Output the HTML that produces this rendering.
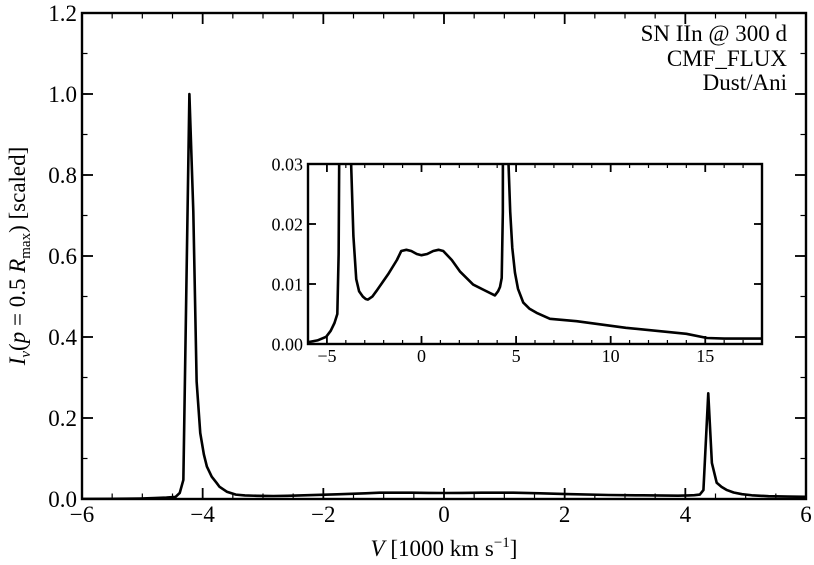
<!DOCTYPE html>
<html><head><meta charset="utf-8"><style>
html,body{margin:0;padding:0;background:#fff;}
svg{display:block;font-family:"Liberation Serif",serif;}
</style></head><body>
<svg id="chart" width="814" height="565" viewBox="0 0 814 565" xmlns="http://www.w3.org/2000/svg"></svg>
<script>
const velocities = [-6,-5.5,-5.04,-4.8,-4.6,-4.45,-4.38,-4.32,-4.22,-4.155,-4.10,-4.04,-3.98,-3.93,-3.85,-3.77,-3.72,-3.6,-3.45,-3.3,-3.1,-2.95,-2.83,-2.6,-2.39,-1.77,-1.3,-1.07,-0.8,-0.54,-0.25,0,0.3,0.62,0.9,1.15,1.6,2.03,2.73,3.3,3.88,4.05,4.15,4.24,4.30,4.38,4.44,4.52,4.6,4.69,4.8,4.94,5.1,5.38,5.7,6.08,6.79,8.2,10.8,14,15.1,16,17.9,18];
const intensities = [0.0003,0.0006,0.0012,0.0022,0.0035,0.005,0.015,0.047,1.0,0.71,0.29,0.163,0.11,0.08,0.055,0.04,0.03,0.018,0.0108,0.0088,0.0079,0.0075,0.0074,0.0079,0.0088,0.0116,0.014,0.0155,0.0157,0.0155,0.015,0.0148,0.015,0.0155,0.0157,0.0155,0.014,0.0121,0.0099,0.009,0.0081,0.0088,0.0095,0.011,0.022,0.261,0.089,0.04,0.03,0.022,0.016,0.0119,0.0092,0.0069,0.0059,0.0052,0.0042,0.0038,0.0027,0.0017,0.001,0.0009,0.0009,0.0009];
const mainXTicks = [-6,-4,-2,0,2,4,6];
const mainXTickLabels = ["\u22126","\u22124","\u22122","0","2","4","6"];
const mainYTicks = [0,0.2,0.4,0.6,0.8,1.0,1.2];
const mainYTickLabels = ["0.0","0.2","0.4","0.6","0.8","1.0","1.2"];
const insetXTicks = [-5,0,5,10,15];
const insetXTickLabels = ["\u22125","0","5","10","15"];
const insetYTicks = [0,0.01,0.02,0.03];
const insetYTickLabels = ["0.00","0.01","0.02","0.03"];

const NS="http://www.w3.org/2000/svg";
const svg=document.getElementById('chart');
function mk(tag,attrs,parent){const e=document.createElementNS(NS,tag);for(const k in attrs)e.setAttribute(k,attrs[k]);(parent||svg).appendChild(e);return e;}

function panel(cfg){
  const {L,R,T,B,xmin,xmax,ymin,ymax,name,fs,xt,xtl,yt,ytl,xminor,yminor,tickLen}=cfg;
  const sx=v=>L+(v-xmin)/(xmax-xmin)*(R-L);
  const sy=v=>B-(v-ymin)/(ymax-ymin)*(B-T);
  const g=mk('g',{});
  
  
  mk('rect',{x:L,y:T,width:R-L,height:B-T,fill:'#fff'},g);
  const cid='clip-'+name;
  const cp=mk('clipPath',{id:cid},g);mk('rect',{x:L,y:T,width:R-L,height:B-T},cp);
  const pts=velocities.map((v,i)=>sx(v).toFixed(2)+','+sy(intensities[i]).toFixed(2)).join(' ');
  const line=mk('polyline',{points:pts,fill:'none',stroke:'#000','stroke-width':2.6,'stroke-linejoin':'round','clip-path':'url(#'+cid+')'},g);
  
  
  for(let v=xmin;v<=xmax+1e-9;v+=xminor){const x=sx(v);
    mk('line',{x1:x,x2:x,y1:B,y2:B-tickLen/2,stroke:'#000','stroke-width':1.2},g);
    mk('line',{x1:x,x2:x,y1:T,y2:T+tickLen/2,stroke:'#000','stroke-width':1.2},g);}
  for(let v=ymin;v<=ymax+1e-9;v+=yminor){const y=sy(v);
    mk('line',{x1:L,x2:L+tickLen/2,y1:y,y2:y,stroke:'#000','stroke-width':1.2},g);
    mk('line',{x1:R,x2:R-tickLen/2,y1:y,y2:y,stroke:'#000','stroke-width':1.2},g);}
  xt.forEach((v,i)=>{const x=sx(v);
    mk('line',{x1:x,x2:x,y1:B,y2:B-tickLen,stroke:'#000','stroke-width':1.8},g);
    mk('line',{x1:x,x2:x,y1:T,y2:T+tickLen,stroke:'#000','stroke-width':1.8},g);
    const t=mk('text',{x:x,y:B+fs*1.0,'font-size':fs,'text-anchor':'middle'},g);t.textContent=xtl[i];
    
    });
  yt.forEach((v,i)=>{const y=sy(v);
    mk('line',{x1:L,x2:L+tickLen,y1:y,y2:y,stroke:'#000','stroke-width':1.8},g);
    mk('line',{x1:R,x2:R-tickLen,y1:y,y2:y,stroke:'#000','stroke-width':1.8},g);
    const t=mk('text',{x:L-5,y:y+fs*0.35,'font-size':fs,'text-anchor':'end'},g);t.textContent=ytl[i];
    
    });
  mk('rect',{x:L,y:T,width:R-L,height:B-T,fill:'none',stroke:'#000','stroke-width':2.4},g);
  return g;
}
panel({L:82,R:806,T:13,B:499,xmin:-6,xmax:6,ymin:0,ymax:1.2,name:'main-plot',fs:23,xt:mainXTicks,xtl:mainXTickLabels,yt:mainYTicks,ytl:mainYTickLabels,xminor:0.5,yminor:0.1,tickLen:11});
panel({L:308,R:762,T:164,B:344,xmin:-6,xmax:18,ymin:0,ymax:0.03,name:'inset-plot',fs:18,xt:insetXTicks,xtl:insetXTickLabels,yt:insetYTicks,ytl:insetYTickLabels,xminor:1,yminor:0.01,tickLen:8});
</script>
<svg style="position:absolute;left:0;top:0" width="814" height="565" xmlns="http://www.w3.org/2000/svg" font-family="Liberation Serif, serif">
  <g font-size="23" text-anchor="end">
    <text x="787" y="41">SN IIn @ 300 d</text>
    <text x="787" y="66">CMF_FLUX</text>
    <text x="787" y="90">Dust/Ani</text>
  </g>
  <text x="444" y="556" font-size="23" text-anchor="middle"><tspan font-style="italic">V</tspan> [1000 km s<tspan font-size="15" dy="-9">−1</tspan><tspan dy="9">]</tspan></text>
  <text transform="translate(25,256) rotate(-90)" font-size="23" text-anchor="middle"><tspan font-style="italic">I</tspan><tspan font-style="italic" font-size="15" dy="5">ν</tspan><tspan dy="-5">(</tspan><tspan font-style="italic">p</tspan> = 0.5 <tspan font-style="italic">R</tspan><tspan font-size="15" dy="5">max</tspan><tspan dy="-5">) [scaled]</tspan></text>
</svg>
</body></html>
